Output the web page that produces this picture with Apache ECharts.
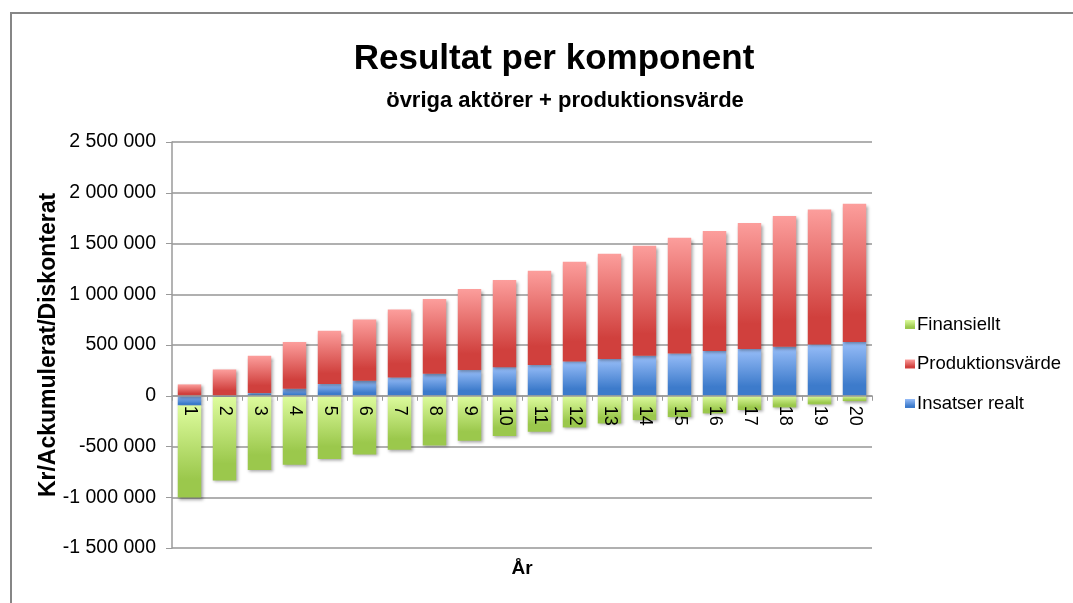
<!DOCTYPE html>
<html>
<head>
<meta charset="utf-8">
<script src="https://cdn.jsdelivr.net/npm/echarts@6/dist/echarts.min.js"></script>
<style>
html,body{margin:0;padding:0;background:#fff;}
#chart{width:1073px;height:603px;}
</style>
</head>
<body>
<div id="chart"></div>
<script>
const years = ['1','2','3','4','5','6','7','8','9','10','11','12','13','14','15','16','17','18','19','20'];
const insatserRealt = [-95000, -12000, 26000, 69000, 115000, 148000, 181000, 217000, 253000, 282000, 302000, 338000, 361000, 394000, 417000, 440000, 460000, 483000, 506000, 529000];
const produktionsvarde = [112000, 259000, 368000, 460000, 525000, 604000, 669000, 735000, 798000, 858000, 929000, 982000, 1038000, 1084000, 1140000, 1182000, 1241000, 1287000, 1330000, 1363000];
const finansiellt = [-908000, -822000, -732000, -680000, -624000, -578000, -532000, -489000, -443000, -397000, -355000, -312000, -273000, -240000, -210000, -174000, -141000, -115000, -85000, -53000];
const yTicks = {min: -1500000, max: 2500000, interval: 500000};

const chart = echarts.init(document.getElementById('chart'), null, {renderer: 'canvas'});
function grad(top, bottom) {
  return new echarts.graphic.LinearGradient(0, 0, 0, 1, [
    {offset: 0, color: top}, {offset: 0.8, color: bottom}, {offset: 1, color: bottom}
  ]);
}
function fmt(v) {
  const s = Math.abs(v).toString().replace(/\B(?=(\d{3})+(?!\d))/g, ' ');
  return (v < 0 ? '-' : '') + s;
}
const shadow = {shadowBlur: 3, shadowColor: 'rgba(0,0,0,0.35)', shadowOffsetX: 1.5, shadowOffsetY: 2};
const sans = '"Liberation Sans", Arial, sans-serif';

const gridTop = 142, gridBottomPx = 548;
// place category axis line at value 0 of the value axis
const zeroY = gridTop + (yTicks.max / (yTicks.max - yTicks.min)) * (gridBottomPx - gridTop);

chart.setOption({
  animation: false,
  backgroundColor: '#fff',
  title: [
    {text: 'Resultat per komponent', left: 549, top: 37, textAlign: 'center',
     textStyle: {fontFamily: sans, fontWeight: 'bold', fontSize: 35, color: '#000'}},
    {text: 'övriga aktörer + produktionsvärde', left: 560, top: 85, textAlign: 'center',
     textStyle: {fontFamily: sans, fontWeight: 'bold', fontSize: 22, color: '#000'}}
  ],
  graphic: [
    {type: 'polyline', shape: {points: [[11, 603], [11, 13], [1073, 13]]}, style: {stroke: '#868686', lineWidth: 2, fill: null}}
  ],
  legend: {
    orient: 'vertical', left: 900, top: 310, itemWidth: 10, itemHeight: 9, itemGap: 20.5,
    data: ['Finansiellt', 'Produktionsvärde', 'Insatser realt'],
    textStyle: {fontFamily: sans, fontSize: 18.5, color: '#000', padding: [0, 0, 0, -3]},
    icon: 'rect'
  },
  grid: {left: 172, right: 201, top: gridTop, bottom: 603 - gridBottomPx, containLabel: false, outerBoundsMode: 'none'},
  xAxis: [{
    type: 'category', data: years, z: 10, position: 'bottom', offset: -(gridBottomPx - zeroY),
    axisLine: {onZero: false, lineStyle: {color: '#9a9a9a', width: 1.5}},
    axisTick: {show: true, inside: false, length: 5, lineStyle: {color: '#9a9a9a'}},
    axisLabel: {rotate: -90, margin: 10, fontFamily: sans, fontSize: 18, color: '#000'}
  }, {
    type: 'category', data: years, position: 'bottom',
    name: 'År', nameLocation: 'middle', nameGap: 21,
    nameTextStyle: {fontFamily: sans, fontWeight: 'bold', fontSize: 19, color: '#000', verticalAlign: 'middle'},
    axisLine: {show: false, onZero: false}, axisTick: {show: false}, axisLabel: {show: false}
  }],
  yAxis: {
    type: 'value', min: yTicks.min, max: yTicks.max, interval: yTicks.interval,
    name: 'Kr/Ackumulerat/Diskonterat', nameLocation: 'middle', nameGap: 112, nameRotate: 90,
    nameMoveOverlap: false,
    nameTextStyle: {fontFamily: sans, fontWeight: 'bold', fontSize: 23, color: '#000'},
    axisLine: {show: true, lineStyle: {color: '#9a9a9a', width: 1.5}},
    axisTick: {show: true, length: 6, lineStyle: {color: '#9a9a9a'}},
    axisLabel: {margin: 16, fontFamily: sans, fontSize: 19.5, color: '#000', formatter: fmt},
    splitLine: {show: true, lineStyle: {color: '#b0b0b0', width: 2}}
  },
  series: [
    {name: 'Insatser realt', type: 'bar', stack: 'total', data: insatserRealt, barCategoryGap: '33%',
     itemStyle: Object.assign({color: grad('#97bdf8', '#3d7bcb')}, shadow)},
    {name: 'Produktionsvärde', type: 'bar', stack: 'total', data: produktionsvarde, barCategoryGap: '33%',
     itemStyle: Object.assign({color: grad('#fc9e9c', '#d0403d')}, shadow)},
    {name: 'Finansiellt', type: 'bar', stack: 'total', data: finansiellt, barCategoryGap: '33%',
     itemStyle: Object.assign({color: grad('#defc9e', '#9bc84c')}, shadow)}
  ]
});
</script>
</body>
</html>
